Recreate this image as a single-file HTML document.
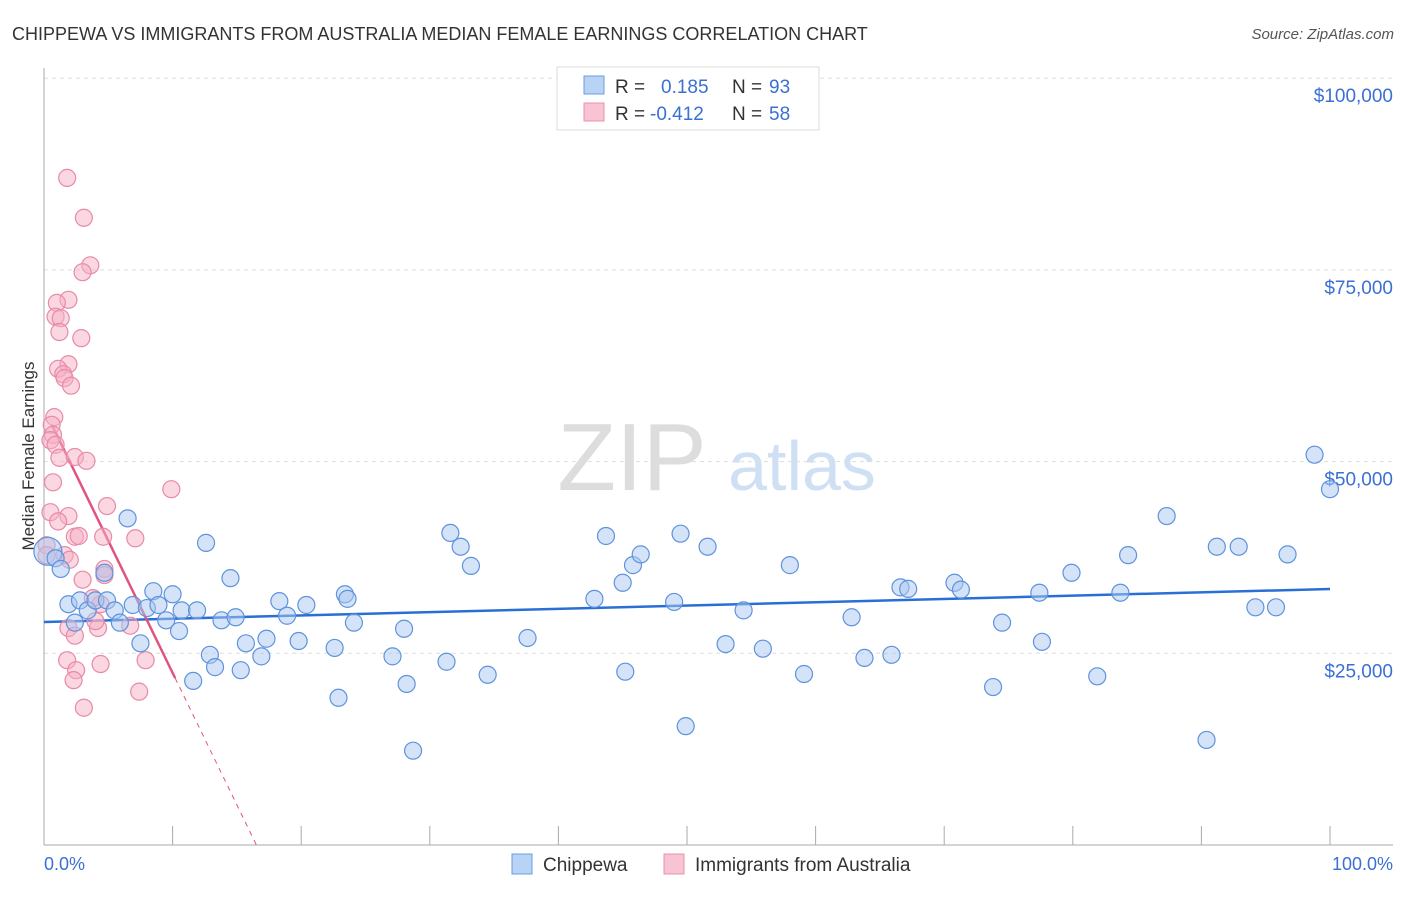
<!DOCTYPE html>
<html><head><meta charset="utf-8"><style>
body{margin:0;background:#fff;font-family:"Liberation Sans",sans-serif}
svg text{font-family:"Liberation Sans",sans-serif}
</style></head><body>
<svg id="chart" width="1406" height="892" xmlns="http://www.w3.org/2000/svg">
<text x="12" y="40" font-size="18" fill="#333">CHIPPEWA VS IMMIGRANTS FROM AUSTRALIA MEDIAN FEMALE EARNINGS CORRELATION CHART</text>
<text x="1394" y="39" font-size="15" fill="#555" text-anchor="end" font-style="italic">Source: ZipAtlas.com</text>
<text transform="translate(34,456) rotate(-90)" font-size="17" fill="#333" text-anchor="middle">Median Female Earnings</text>
<g>
<text x="632" y="490" font-size="96" fill="#ddd" text-anchor="middle" font-family="Liberation Serif,serif">ZIP</text>
<text x="802" y="490" font-size="70" fill="#cfe0f5" text-anchor="middle">atlas</text>
</g>
<g id="grid"></g><g id="axes"></g><g id="trend"></g><g id="pts"></g>
<g>
<rect x="557" y="67" width="262" height="63" fill="#fff" stroke="#ddd"/>
<rect x="584" y="76" width="20" height="18" fill="#b8d3f4" stroke="#6a9de0"/>
<rect x="584" y="103" width="20" height="18" fill="#f8c4d4" stroke="#e890aa"/>
<text x="615" y="93" font-size="19" fill="#333">R =</text><text x="661" y="93" font-size="19" fill="#3a6fd4">0.185</text>
<text x="732" y="93" font-size="19" fill="#333">N =</text><text x="769" y="93" font-size="19" fill="#3a6fd4">93</text>
<text x="615" y="120" font-size="19" fill="#333">R =</text><text x="650" y="120" font-size="19" fill="#3a6fd4">-0.412</text>
<text x="732" y="120" font-size="19" fill="#333">N =</text><text x="769" y="120" font-size="19" fill="#3a6fd4">58</text>
</g>
<g>
<rect x="512" y="854" width="20" height="20" fill="#b8d3f4" stroke="#6a9de0"/>
<text x="543" y="871" font-size="19" fill="#333">Chippewa</text>
<rect x="664" y="854" width="20" height="20" fill="#f8c4d4" stroke="#e890aa"/>
<text x="695" y="871" font-size="19" fill="#333">Immigrants from Australia</text>
</g>
<text x="44" y="870" font-size="18" fill="#3a6fd4">0.0%</text>
<text x="1393" y="870" font-size="18" fill="#3a6fd4" text-anchor="end">100.0%</text>
</svg>
<script>
const yTicks=[25000,50000,75000,100000];
const yTickLabels=["$25,000","$50,000","$75,000","$100,000"];
const xTicks=[10,20,30,40,50,60,70,80,90,100];
const blueX=[0.3,0.9,1.3,1.9,2.4,2.8,3.4,4.0,4.7,4.9,5.5,5.9,6.5,6.9,7.5,8.0,8.5,8.9,9.5,10.0,10.5,10.7,11.6,11.9,12.6,12.9,13.3,13.8,14.5,14.9,15.3,15.7,16.9,17.3,18.3,18.9,19.8,20.4,22.6,22.9,23.4,23.6,24.1,27.1,28.0,28.2,28.7,31.3,31.6,32.4,33.2,34.5,37.6,42.8,43.7,45.0,45.2,45.8,46.4,49.0,49.5,49.9,51.6,53.0,54.4,55.9,58.0,59.1,62.8,63.8,65.9,66.6,67.2,70.8,71.3,73.8,74.5,77.4,77.6,79.9,81.9,83.7,84.3,87.3,90.4,91.2,92.9,94.2,95.8,96.7,98.8,100];
const blueY=[38.3,37.4,36.0,31.4,29.0,31.9,30.6,31.9,35.5,31.9,30.6,29.0,42.6,31.3,26.3,30.9,33.1,31.3,29.3,32.7,27.9,30.6,21.4,30.6,39.4,24.8,23.2,29.3,34.8,29.7,22.8,26.3,24.6,26.9,31.8,29.9,26.6,31.3,25.7,19.2,32.7,32.1,29.0,24.6,28.2,21.0,12.3,23.9,40.7,38.9,36.4,22.2,27.0,32.1,40.3,34.2,22.6,36.5,37.9,31.7,40.6,15.5,38.9,26.2,30.6,25.6,36.5,22.3,29.7,24.4,24.8,33.6,33.4,34.2,33.3,20.6,29.0,32.9,26.5,35.5,22.0,32.9,37.8,42.9,13.7,38.9,38.9,31.0,31.0,37.9,50.9,46.4];
const pinkX=[1.8,3.1,3.6,3.0,1.9,1.0,0.9,1.3,1.2,2.9,1.9,1.1,1.5,1.6,2.1,0.8,0.6,0.7,0.5,0.9,1.2,2.4,3.3,9.9,0.7,0.5,1.9,1.1,4.9,7.1,4.6,2.4,2.7,1.6,2.0,4.7,4.7,3.0,1.9,2.4,4.2,4.0,4.4,6.7,3.8,1.8,2.5,2.3,7.9,7.4,4.4,3.1,0.2,0.2];
const pinkY=[87.0,81.8,75.6,74.7,71.1,70.7,68.9,68.7,66.9,66.1,62.7,62.1,61.4,60.9,59.9,55.8,54.8,53.5,52.8,52.2,50.5,50.6,50.1,46.4,47.3,43.4,42.9,42.2,44.2,40.0,40.2,40.2,40.3,37.8,37.2,36.0,35.2,34.6,28.3,27.3,28.3,29.2,31.4,28.6,32.2,24.1,22.8,21.5,24.1,20.0,23.6,17.9,39.1,37.8];
const blueTrend=[29080,33380];
const pinkTrend=[56900,-3445];
const pinkSolidEnd=10.2;
const NS="http://www.w3.org/2000/svg";
const X=p=>44+p*12.86;
const Y=v=>845-v/25000*191.7;
function mk(par,tag,at){const e=document.createElementNS(NS,tag);for(const k in at)e.setAttribute(k,at[k]);document.getElementById(par).appendChild(e);return e;}
yTicks.forEach((t,i)=>{
 const l=mk('grid','line',{x1:44,x2:1393,y1:Y(t),y2:Y(t),stroke:'#ddd','stroke-dasharray':'4,4'});
 
 
 const tx=mk('grid','text',{x:1393,y:Y(t)+24,'font-size':19,fill:'#3a6fd4','text-anchor':'end'});
 tx.textContent=yTickLabels[i];
 
 
});
const ya=mk('axes','line',{x1:44,x2:44,y1:68,y2:845,stroke:'#aaa'});


const xa=mk('axes','line',{x1:44,x2:1393,y1:845,y2:845,stroke:'#aaa'});


xTicks.forEach(t=>{
 const l=mk('axes','line',{x1:X(t),x2:X(t),y1:826,y2:845,stroke:'#aaa'});
 
 
});
function dots(xs,ys,fill,st,name){
 xs.forEach((x,i)=>{
  const c=mk('pts','circle',{cx:X(x),cy:Y(ys[i]*1000),r:(name==='chippewa-point'&&i===0)?14:8.5,fill:fill,'fill-opacity':0.5,stroke:st,'stroke-width':1.2});
  
  
 });
}
dots(pinkX,pinkY,'#f5afc4','#e88aa8','australia-point');
dots(blueX,blueY,'#a9c8f0','#5e93dd','chippewa-point');
const bt=mk('trend','line',{x1:X(0),y1:Y(blueTrend[0]),x2:X(100),y2:Y(blueTrend[1]),stroke:'#2a6fd6','stroke-width':2.5});


const pv=p=>pinkTrend[0]+pinkTrend[1]*p;
const x0=0.6,xEnd=-pinkTrend[0]/pinkTrend[1];
const ps=mk('trend','line',{x1:X(x0),y1:Y(pv(x0)),x2:X(pinkSolidEnd),y2:Y(pv(pinkSolidEnd)),stroke:'#e0557f','stroke-width':2.5});


const pd=mk('trend','line',{x1:X(pinkSolidEnd),y1:Y(pv(pinkSolidEnd)),x2:X(xEnd),y2:Y(0),stroke:'#e0557f','stroke-width':1,'stroke-dasharray':'5,5'});


</script>
</body></html>
